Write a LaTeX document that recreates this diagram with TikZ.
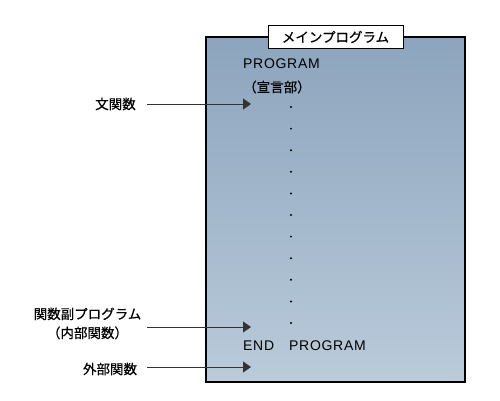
\documentclass[tikz,border=0pt]{standalone}
\usepackage{fontspec}
\setmainfont{Liberation Sans}[LetterSpace=5]
\newfontfamily\jpfont{Noto Sans CJK JP}[FakeBold=0.6]
\usetikzlibrary{arrows.meta}
\definecolor{boxtop}{HTML}{8CA4BD}
\definecolor{boxbot}{HTML}{BACBDA}
\definecolor{pointer}{HTML}{333333}

\begin{document}
\begin{tikzpicture}[x=1pt,y=-1pt,
	every node/.style={inner sep=0pt,font=\fontsize{14}{17}\selectfont},
	jplabel/.style={font=\jpfont\fontsize{13.5}{19}\selectfont},
	pointer/.style={draw=pointer,line width=0.9pt,-{Triangle[length=8pt,width=11pt]}}]
	\useasboundingbox (0,0) rectangle (500,400);
	\node[draw,line width=1.3pt,top color=boxtop,bottom color=boxbot,minimum width=259pt,minimum height=345pt] (main) at (335.5,209.5) {};
	\node[draw,fill=white,line width=1pt,minimum width=135pt,minimum height=23pt,jplabel] (title) at (335.5,37) {メインプログラム};
	\node[anchor=west] (begin) at (243,64) {PROGRAM};
	\node[anchor=west,jplabel] (decl) at (243,87) {（宣言部）};
	\fill (291,107) circle[radius=1.1];
	\fill (291,128.6) circle[radius=1.1];
	\fill (291,150.2) circle[radius=1.1];
	\fill (291,171.8) circle[radius=1.1];
	\fill (291,193.4) circle[radius=1.1];
	\fill (291,215) circle[radius=1.1];
	\fill (291,236.6) circle[radius=1.1];
	\fill (291,258.2) circle[radius=1.1];
	\fill (291,279.8) circle[radius=1.1];
	\fill (291,301.4) circle[radius=1.1];
	\fill (291,323) circle[radius=1.1];
	\node[anchor=west] (endkw) at (243,346) {END};
	\node[anchor=west] (endprog) at (289,346) {PROGRAM};
	\node[jplabel] (stmtfn) at (115.5,104) {文関数};
	\node[jplabel,align=center] (intfn) at (87.5,323.5) {関数副プログラム\\（内部関数）};
	\node[jplabel] (extfn) at (110,369) {外部関数};
	\coordinate (stmtfn-in) at (251,104);
	\coordinate (intfn-in) at (251,327);
	\coordinate (extfn-in) at (251,367);
	\draw[pointer] ([xshift=11pt]stmtfn.east) -- (stmtfn-in);
	\draw[pointer] ([xshift=6pt]intfn.east |- intfn-in) -- (intfn-in);
	\draw[pointer] ([xshift=10pt]extfn.east |- extfn-in) -- (extfn-in);
\end{tikzpicture}
\end{document}
